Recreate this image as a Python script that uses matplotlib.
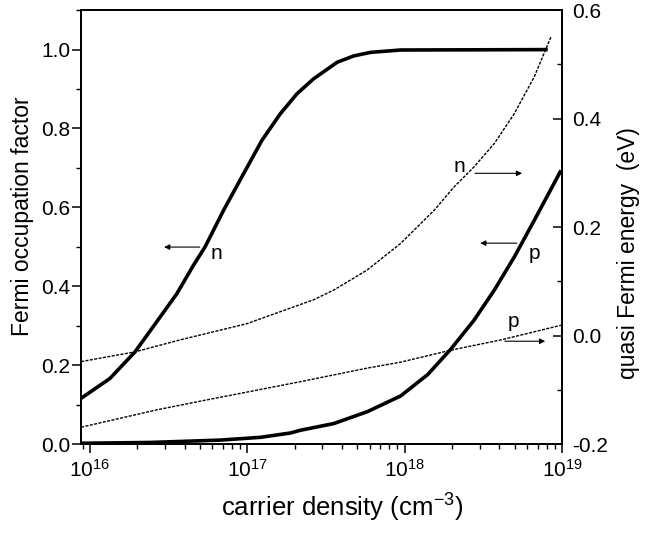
import numpy as np
import matplotlib
matplotlib.use("Agg")
import matplotlib.pyplot as plt
from matplotlib.ticker import MultipleLocator, LogLocator, NullFormatter

plt.rcParams['font.family'] = ['Liberation Sans', 'DejaVu Sans']
plt.rcParams['mathtext.fontset'] = 'custom'
plt.rcParams['mathtext.rm'] = 'Liberation Sans'
plt.rcParams['mathtext.it'] = 'Liberation Sans:italic'

# occupation factor (left axis)
dens_occ_n = [8.8e15, 1.34e16, 1.94e16, 2.66e16, 3.57e16, 4.55e16, 5.40e16, 7.06e16,
              9.47e16, 1.24e17, 1.62e17, 2.07e17, 2.64e17, 3.73e17, 4.75e17, 6.07e17,
              9.44e17, 8.11e18]
occ_n = [0.116, 0.166, 0.234, 0.310, 0.381, 0.453, 0.50, 0.592,
         0.685, 0.770, 0.837, 0.888, 0.926, 0.968, 0.984, 0.993,
         0.999, 1.0]

dens_occ_p = [8.8e15, 2.41e16, 6.73e16, 1.21e17, 1.88e17, 2.18e17, 3.55e17, 5.79e17,
              9.44e17, 1.40e18, 1.96e18, 2.76e18, 3.71e18, 4.97e18, 6.66e18, 9.86e18]
occ_p = [0.002, 0.004, 0.010, 0.017, 0.028, 0.035, 0.052, 0.082,
         0.122, 0.176, 0.240, 0.314, 0.390, 0.474, 0.567, 0.694]

# quasi Fermi energy (right axis, eV)
dens_ef_n = [8.8e15, 1.94e16, 3.74e16, 6.10e16, 9.96e16, 1.62e17, 2.64e17, 3.55e17,
             5.79e17, 9.44e17, 1.54e18, 2.06e18, 2.76e18, 3.71e18, 4.97e18, 6.66e18,
             8.51e18]
ef_n = [-0.048, -0.030, -0.008, 0.007, 0.022, 0.044, 0.066, 0.084,
        0.121, 0.170, 0.231, 0.274, 0.311, 0.354, 0.409, 0.477,
        0.551]

dens_ef_p = [8.8e15, 2.66e16, 5.02e16, 2.18e17, 3.91e17, 5.79e17, 9.44e17, 1.96e18,
             4.09e18, 9.86e18]
ef_p = [-0.169, -0.137, -0.121, -0.085, -0.070, -0.060, -0.049, -0.027,
        -0.008, 0.019]

fig = plt.figure(figsize=(6.52, 5.35), dpi=100)
ax = fig.add_axes([0.124, 0.170, 0.738, 0.811])
ax2 = ax.twinx()

ax.plot(dens_occ_n, occ_n, color='black', lw=2.6, solid_capstyle='butt', solid_joinstyle='round')
ax.plot(dens_occ_p, occ_p, color='black', lw=2.6, solid_capstyle='butt', solid_joinstyle='round')
ax2.plot(dens_ef_n, ef_n, color='black', lw=1.0, ls=(0, (2.2, 1.0)))
ax2.plot(dens_ef_p, ef_p, color='black', lw=1.0, ls=(0, (2.2, 1.0)))

ax.set_xscale('log')
ax.set_xlim(8.77e15, 1e19)
ax.set_ylim(0, 1.1)
ax2.set_ylim(-0.2, 0.6)

ax.yaxis.set_minor_locator(MultipleLocator(0.1))
ax2.yaxis.set_minor_locator(MultipleLocator(0.1))
ax.xaxis.set_major_locator(LogLocator(base=10, numticks=10))
ax.xaxis.set_minor_locator(LogLocator(base=10, subs=np.arange(2, 10), numticks=20))
ax.xaxis.set_minor_formatter(NullFormatter())
ax.set_yticks([0, 0.2, 0.4, 0.6, 0.8, 1.0])
ax.set_yticklabels(['0.0', '0.2', '0.4', '0.6', '0.8', '1.0'])
ax2.set_yticks([-0.2, 0.0, 0.2, 0.4, 0.6])
ax2.set_yticklabels(['-0.2', '0.0', '0.2', '0.4', '0.6'])

ax.tick_params(axis='both', which='major', direction='out', length=6.5, width=1.1, labelsize=15)
ax.tick_params(axis='both', which='minor', direction='out', length=3.5, width=1.0)
ax.tick_params(axis='y', which='major', pad=1)
ax.tick_params(axis='x', which='major', pad=4)
ax2.tick_params(axis='y', which='major', direction='in', length=6.5, width=1.1, labelsize=15, pad=7)
ax2.tick_params(axis='y', which='minor', direction='in', length=3.5, width=1.0)

for a in (ax, ax2):
    for s in a.spines.values():
        s.set_linewidth(1.3)

ax.set_xlabel('carrier density (cm$^{-3}$)', fontsize=18.5, labelpad=8)
ax.set_ylabel('Fermi occupation factor', fontsize=16.5, labelpad=5)
ax2.set_ylabel('quasi Fermi energy  (eV)', fontsize=16.5, labelpad=7)
ax.xaxis.label.set_x(0.543)
ax.yaxis.label.set_y(0.525)
ax2.yaxis.label.set_y(0.44)

arrow = dict(arrowstyle='-|>', color='black', lw=0.8, mutation_scale=8, shrinkA=0, shrinkB=0)
tr = ax.transAxes
ax.annotate('', xy=(0.173, 0.454), xytext=(0.247, 0.454), xycoords=tr, textcoords=tr, arrowprops=arrow)
ax.text(0.281, 0.440, 'n', transform=tr, fontsize=15, ha='center', va='center')
ax.annotate('', xy=(0.917, 0.624), xytext=(0.819, 0.624), xycoords=tr, textcoords=tr, arrowprops=arrow)
ax.text(0.786, 0.640, 'n', transform=tr, fontsize=15, ha='center', va='center')
ax.annotate('', xy=(0.830, 0.463), xytext=(0.906, 0.463), xycoords=tr, textcoords=tr, arrowprops=arrow)
ax.text(0.942, 0.440, 'p', transform=tr, fontsize=15, ha='center', va='center')
ax.annotate('', xy=(0.965, 0.237), xytext=(0.881, 0.237), xycoords=tr, textcoords=tr, arrowprops=arrow)
ax.text(0.898, 0.283, 'p', transform=tr, fontsize=15, ha='center', va='center')

fig.savefig('out.png', dpi=100)
